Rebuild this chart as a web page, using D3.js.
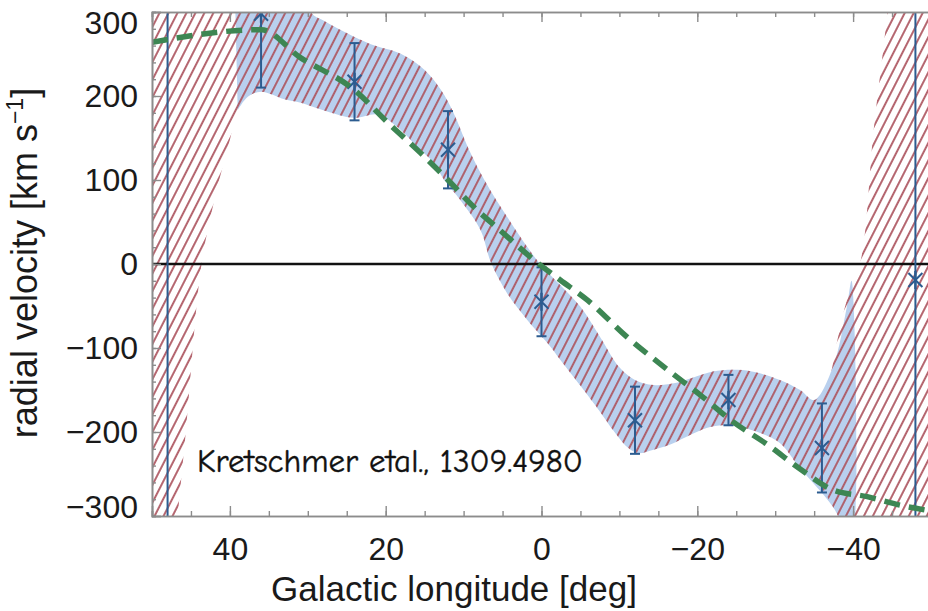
<!DOCTYPE html>
<html>
<head>
<meta charset="utf-8">
<script src="https://cdn.jsdelivr.net/npm/d3@7"></script>
<style>
  html, body { margin: 0; padding: 0; background: #fff; }
  svg { display: block; }
  .axis-text { font-family: "Liberation Sans", Arial, Helvetica, sans-serif; fill: #1a1a1a; }
</style>
</head>
<body>
<svg id="chart" width="928" height="611"></svg>
<script>
// Measured radial velocities (stars with error bars)
const pointLon = [48, 36, 24, 12, 0, -12, -24, -36, -48];
const pointVel = [360, 298, 217, 136, -45, -186, -162, -219, -19];
const pointErrLow = [800, 88, 46, 46, 41, 40, 30, 53, 800];
const pointErrHigh = [800, 88, 46, 46, 41, 40, 30, 53, 800];

// Model curve (green dashed)
const modelLon = [50, 36, 31, 24, 19.7, 15.5, 12, 8.7, 5.3, 1, -2.4, -5.9, -11, -16.2, -20.4, -24.6, -29, -33.2, -37.4, -41.8, -46, -50];
const modelVel = [264, 279, 246, 207, 168, 132, 100, 68, 40, 5, -19, -43, -87, -126, -156, -188, -215, -244, -269, -277, -287, -294];

// Hatched allowed region: upper and lower boundaries
const bandUpLon = [50, 30.5, 29.6, 28, 25, 22, 18, 15, 12.9, 11.3, 9.5, 7.8, 6.2, 4.4, 1.8, 0, -2.4, -5, -7.6, -10, -12, -14.4, -17, -19.5, -22, -24.6, -27, -30.6, -33.2, -35, -36.7, -38, -39.2, -41, -42.6, -44.4, -45.5, -50];
const bandUpVel = [420, 420, 300, 290, 275, 262, 250, 231, 207, 180, 140, 108, 82, 56, 20, -2, -25, -51, -88, -123, -138, -144, -142, -135, -128, -126, -128, -138, -150, -162, -142, -90, -43, 5, 156, 300, 420, 420];
const bandLoLon = [50, 48, 46.7, 45.6, 43.7, 42, 40, 39, 37.7, 36, 33, 30.9, 28.3, 24.1, 21, 18.5, 15.9, 13.8, 12.5, 10.4, 7.8, 6.5, 4.4, 1.8, -1.2, -2.4, -5, -7.6, -9.2, -11, -12.3, -14.4, -17, -19, -21.3, -23.3, -25.5, -28, -30.6, -33.2, -35.8, -37.4, -38.6, -40, -50];
const bandLoVel = [-640, -430, -300, -194, -4, 76, 148, 183, 199, 205, 196, 192, 184, 174, 178, 163, 139, 120, 100, 76, 40, 2, -35, -67, -99, -114, -145, -177, -198, -218, -225, -221, -213, -204, -195, -192, -194, -201, -213, -243, -265, -289, -310, -340, -420];

// Shaded (blue) region: shares the band boundaries between these longitudes,
// closed off by its own end points
const shadeLonMax = 39.6;
const shadeLonMin = -35;
const shadeStartLon = [39.6];
const shadeStartVel = [420];
const shadeUpEndLon = [-37.4, -39.2, -39.8];
const shadeUpEndVel = [-123, -51, -20];
const shadeLoEndLon = [-37.4, -38.6, -39.8];
const shadeLoEndVel = [-289, -310, -330];

// Axis ticks
const xMajorTicks = [40, 20, 0, -20, -40];
const yMajorTicks = [-300, -200, -100, 0, 100, 200, 300];

const svg = d3.select("#chart");
const plotLeft = 152, plotRight = 931, plotTop = 12, plotBottom = 516;

const x = d3.scaleLinear().domain([50, -50]).range([plotLeft, plotRight]);
const y = d3.scaleLinear().domain([-300, 300]).range([plotBottom, plotTop]);

const defs = svg.append("defs");
defs.append("clipPath").attr("id", "plotClip")
  .append("rect").attr("x", plotLeft).attr("y", plotTop)
  .attr("width", plotRight - plotLeft).attr("height", plotBottom - plotTop);

const pat = defs.append("pattern").attr("id", "hatch")
  .attr("patternUnits", "userSpaceOnUse")
  .attr("width", 8).attr("height", 8)
  .attr("patternTransform", "rotate(27)");
pat.append("line").attr("x1", 4).attr("y1", -1).attr("x2", 4).attr("y2", 9)
  .attr("stroke", "#ad5560").attr("stroke-width", 1.8);

const plot = svg.append("g").attr("clip-path", "url(#plotClip)");

const zip = (a, b) => a.map((v, i) => [v, b[i]]);
const outline = d3.line().x(d => x(d[0])).y(d => y(d[1]))
  .curve(d3.curveCatmullRom.alpha(0.5));

// Blue shaded region
const shadeUp = zip(shadeStartLon, shadeStartVel)
  .concat(zip(bandUpLon, bandUpVel).filter(d => d[0] <= shadeLonMax && d[0] >= shadeLonMin))
  .concat(zip(shadeUpEndLon, shadeUpEndVel));
const shadeLo = zip(bandLoLon, bandLoVel).filter(d => d[0] <= shadeLonMax && d[0] >= shadeLonMin)
  .concat(zip(shadeLoEndLon, shadeLoEndVel));
plot.append("path")
  .attr("d", outline(shadeUp.concat(shadeLo.slice().reverse())) + "Z")
  .attr("fill", "#b9d0ee");

// Hatched region
const bandUp = zip(bandUpLon, bandUpVel);
const bandLo = zip(bandLoLon, bandLoVel);
plot.append("path")
  .attr("d", outline(bandUp.concat(bandLo.slice().reverse())) + "Z")
  .attr("fill", "url(#hatch)");

// Zero velocity line
plot.append("line")
  .attr("x1", plotLeft).attr("x2", plotRight)
  .attr("y1", y(0)).attr("y2", y(0))
  .attr("stroke", "#111").attr("stroke-width", 2.6);

// Error bars and asterisk markers
const pts = pointLon.map((l, i) => ({ l, v: pointVel[i], lo: pointErrLow[i], hi: pointErrHigh[i] }));
const barColor = "#2c5c90";
const eb = plot.append("g").attr("stroke", barColor).attr("stroke-width", 2).attr("fill", "none");
pts.forEach(p => {
  const cx = x(p.l);
  const y1 = y(p.v + p.hi), y2 = y(p.v - p.lo), cy = y(p.v);
  eb.append("line").attr("x1", cx).attr("x2", cx).attr("y1", y1).attr("y2", y2);
  [y1, y2].forEach(yy => eb.append("line").attr("x1", cx - 5).attr("x2", cx + 5).attr("y1", yy).attr("y2", yy));
  eb.append("line").attr("x1", cx - 7).attr("x2", cx + 7).attr("y1", cy - 7).attr("y2", cy + 7);
  eb.append("line").attr("x1", cx - 7).attr("x2", cx + 7).attr("y1", cy + 7).attr("y2", cy - 7);
  eb.append("line").attr("x1", cx).attr("x2", cx).attr("y1", cy - 9).attr("y2", cy + 9).attr("stroke-width", 2.4);
});

// Model curve
plot.append("path")
  .attr("d", d3.line().x((d, i) => x(modelLon[i])).y((d, i) => y(modelVel[i]))
    .curve(d3.curveMonotoneX)(modelLon))
  .attr("fill", "none")
  .attr("stroke", "#3d8653")
  .attr("stroke-width", 5.5)
  .attr("stroke-dasharray", "16,9");

// Axes: ticks point inward
const frameColor = "#8c8c8c";
const fmt = d3.format("d");
const xMinor = d3.range(-50, 51, 5);
const yMinor = d3.range(-300, 301, 20);

function styleAxis(g) {
  g.selectAll(".domain").attr("stroke", frameColor).attr("stroke-width", 1.6);
  g.selectAll(".tick line").attr("stroke", frameColor).attr("stroke-width", 1.4);
  g.selectAll(".tick text").attr("class", "axis-text").attr("font-size", 32);
}

// minor ticks
svg.append("g").attr("transform", `translate(0,${plotBottom})`)
  .call(d3.axisBottom(x).tickValues(xMinor).tickSize(-5).tickFormat(""))
  .call(styleAxis);
svg.append("g").attr("transform", `translate(0,${plotTop})`)
  .call(d3.axisTop(x).tickValues(xMinor).tickSize(-5).tickFormat(""))
  .call(styleAxis);
svg.append("g").attr("transform", `translate(${plotLeft},0)`)
  .call(d3.axisLeft(y).tickValues(yMinor).tickSize(-4).tickFormat(""))
  .call(styleAxis);

// major ticks with labels
svg.append("g").attr("transform", `translate(0,${plotBottom})`)
  .call(d3.axisBottom(x).tickValues(xMajorTicks).tickSize(-10).tickPadding(21).tickFormat(fmt))
  .call(styleAxis);
svg.append("g").attr("transform", `translate(0,${plotTop})`)
  .call(d3.axisTop(x).tickValues(xMajorTicks).tickSize(-10).tickFormat(""))
  .call(styleAxis);
const yAxis = svg.append("g").attr("transform", `translate(${plotLeft},0)`)
  .call(d3.axisLeft(y).tickValues(yMajorTicks).tickSize(-9).tickPadding(14).tickFormat(fmt))
  .call(styleAxis);

// end labels sit just inside the frame
yAxis.selectAll(".tick text").filter(d => d === 300).attr("dy", "0.66em");
yAxis.selectAll(".tick text").filter(d => d === -300).attr("dy", "0.05em");

// Axis titles
svg.append("text").attr("class", "axis-text")
  .attr("x", 454).attr("y", 601)
  .attr("text-anchor", "middle").attr("font-size", 35)
  .text("Galactic longitude [deg]");

const yt = svg.append("text").attr("class", "axis-text")
  .attr("transform", "translate(37,263) rotate(-90)")
  .attr("text-anchor", "middle").attr("font-size", 36);
yt.append("tspan").text("radial velocity [km s");
yt.append("tspan").attr("font-size", 23).attr("dy", -14).text("\u22121");
yt.append("tspan").attr("dy", 14).text("]");

// Reference note
svg.append("text")
  .attr("x", 197).attr("y", 472)
  .style("font-family", "'Comic Sans MS', 'Comic Neue', 'DejaVu Sans', sans-serif")
  .attr("font-size", 33)
  .attr("fill", "#111")
  .attr("stroke", "#111").attr("stroke-width", 0.4)
  .text("Kretschmer etal., 1309.4980");
</script>
</body>
</html>
